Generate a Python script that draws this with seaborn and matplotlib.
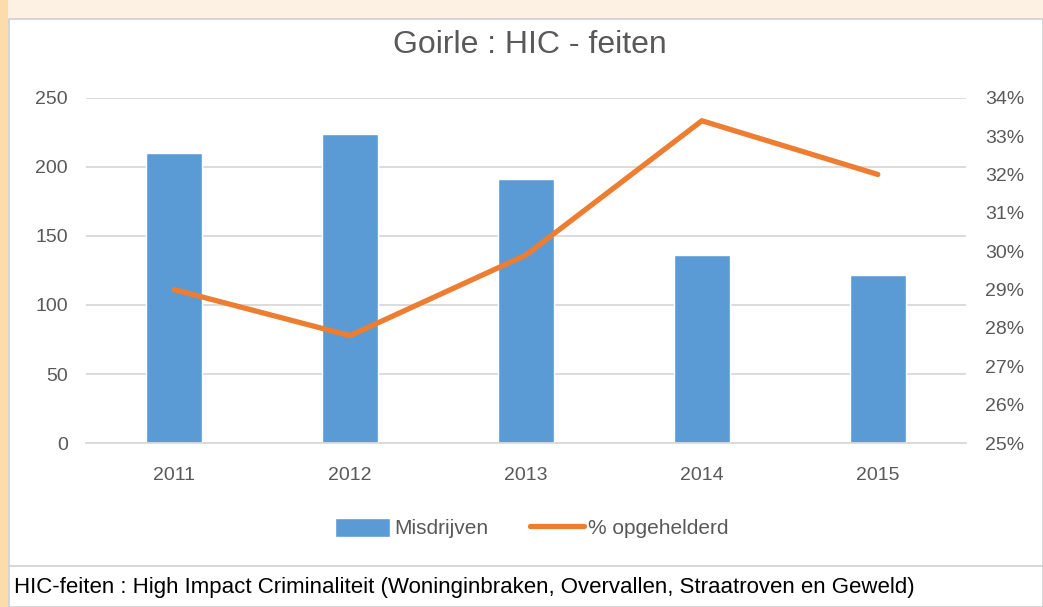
import numpy as np
import matplotlib.pyplot as plt
import pandas as pd
import seaborn as sns
from matplotlib.patches import Rectangle
from matplotlib.lines import Line2D
from matplotlib.ticker import PercentFormatter

# data
years = ['2011', '2012', '2013', '2014', '2015']
misdrijven = [210, 224, 191, 136, 122]
opgehelderd = [29.0, 27.8, 29.9, 33.4, 32.0]

df = pd.DataFrame({'jaar': years, 'Misdrijven': misdrijven, 'pct': opgehelderd})

sns.set_style('white')
plt.rcParams['font.family'] = ['Liberation Sans', 'DejaVu Sans']
grey = '#595959'

fig = plt.figure(figsize=(10.43, 6.07), dpi=100, facecolor='#fdf1e3')
# white chart area and footer
fig.patches.append(Rectangle((0.009, 0.0), 0.991, 0.968, transform=fig.transFigure,
                             facecolor='white', edgecolor='#d0d0d0', lw=1.2, zorder=-5))
fig.patches.append(Rectangle((0.0, 0.0), 0.008, 1.0, transform=fig.transFigure,
                             facecolor='#fbdcaa', edgecolor='none', zorder=-5))
fig.lines.append(Line2D([0.009, 1.0], [0.068, 0.068], transform=fig.transFigure,
                        color='#d0d0d0', lw=1.2, zorder=-4))

ax = fig.add_axes([0.0825, 0.270, 0.8435, 0.569])
ax.set_facecolor('none')
sns.barplot(data=df, x='jaar', y='Misdrijven', color='#5b9bd5', width=0.32,
            saturation=1, ax=ax, zorder=2)
ax.set_ylim(0, 250)
ax.set_yticks(np.arange(0, 251, 50))
ax.yaxis.grid(True, color='#d9d9d9', lw=1.3, zorder=0)
ax.set_axisbelow(True)
ax.set_xlabel('')
ax.set_ylabel('')
for s in ['top', 'right', 'left']:
    ax.spines[s].set_visible(False)
ax.spines['bottom'].set_color('#d9d9d9')
ax.spines['bottom'].set_linewidth(1.3)
ax.tick_params(axis='y', length=0, pad=13, labelsize=14, labelcolor=grey)
ax.tick_params(axis='x', length=0, pad=17, labelsize=14, labelcolor=grey)

ax2 = ax.twinx()
sns.lineplot(data=df, x='jaar', y='pct', color='#ed7d31', lw=3.8, sort=False, ax=ax2)
ax2.set_ylim(25, 34)
ax2.set_yticks(np.arange(25, 35, 1))
ax2.yaxis.set_major_formatter(PercentFormatter(decimals=0))
ax2.set_ylabel('')
ax2.set_xlabel('')
for s in ax2.spines.values():
    s.set_visible(False)
ax2.tick_params(axis='y', length=0, pad=14, labelsize=14, labelcolor=grey)
ax.set_xlim(-0.5, 4.5)

fig.text(0.508, 0.926, 'Goirle : HIC - feiten', ha='center', va='center',
         fontsize=23, color=grey)

handles = [Rectangle((0, 0), 1, 1, facecolor='#5b9bd5'),
           Line2D([0], [0], color='#ed7d31', lw=3.8)]
fig.legend(handles, ['Misdrijven', '% opgehelderd'], loc='center',
           bbox_to_anchor=(0.51, 0.130), ncol=2, frameon=False, fontsize=15,
           labelcolor=grey, handlelength=2.6, handleheight=1.0,
           columnspacing=2.0, handletextpad=0.2)

fig.text(0.013, 0.032, 'HIC-feiten : High Impact Criminaliteit (Woninginbraken, Overvallen, '
         'Straatroven en Geweld)', ha='left', va='center', fontsize=16, color='black')

fig.savefig('out.png', dpi=100, facecolor=fig.get_facecolor())
